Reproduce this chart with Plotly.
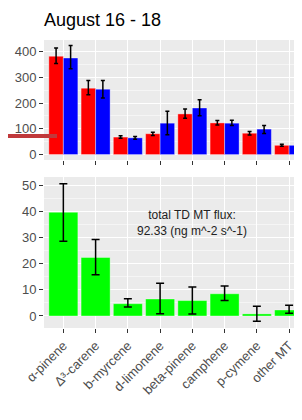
import plotly.graph_objects as go

categories = ["α-pinene", "Δ³-carene", "b-myrcene", "d-limonene", "beta-pinene", "camphene", "p-cymene", "other MT"]

red_vals = [382, 258, 68, 81, 158, 123, 83, 36]
red_hi = [414, 288, 73, 87, 177, 132, 90, 40]
red_lo = [354, 232, 63, 74, 141, 115, 76, 32]

blue_vals = [375, 254, 65, 122, 181, 122, 99, 36]
blue_hi = [424, 288, 70, 168, 213, 133, 113, 40]
blue_lo = [333, 220, 60, 77, 151, 113, 82, 32]

green_vals = [39.7, 22.4, 4.7, 6.5, 5.9, 8.5, 0.8, 2.3]
green_hi = [50.6, 29.3, 6.6, 12.5, 11.1, 11.5, 3.7, 4.1]
green_lo = [28.6, 15.8, 3.4, 0.9, 0.8, 5.9, -2.0, 1.0]

title_text = "August 16 - 18"
note_text = "total TD MT flux:<br>92.33 (ng m^-2 s^-1)"

xs = list(range(len(categories)))

def err(vals, hi, lo):
    return dict(type="data", symmetric=False,
                array=[h - v for h, v in zip(hi, vals)],
                arrayminus=[v - l for v, l in zip(vals, lo)])

outline = dict(color="rgba(255,255,255,0.6)", width=0.6)

fig = go.Figure()
e = err(red_vals, red_hi, red_lo)
e.update(color="black", thickness=1.5, width=2)
fig.add_trace(go.Bar(x=xs, y=red_vals, marker=dict(color="#FF0000", line=outline),
                     error_y=e, xaxis="x", yaxis="y", offsetgroup="r"))
e = err(blue_vals, blue_hi, blue_lo)
e.update(color="black", thickness=1.5, width=2)
fig.add_trace(go.Bar(x=xs, y=blue_vals, marker=dict(color="#0000FF", line=outline),
                     error_y=e, xaxis="x", yaxis="y", offsetgroup="b"))
e = err(green_vals, green_hi, green_lo)
e.update(color="black", thickness=1.5, width=4)
fig.add_trace(go.Bar(x=xs, y=green_vals, marker=dict(color="#00FF00", line=outline),
                     error_y=e, xaxis="x2", yaxis="y2", width=0.9))

# page has an 8px body margin; figure covers page pixels 8..302 / 8..420
OFF = 8
W, H = 302 - OFF, 420 - OFF

def px_x(p):
    return (p - OFF) / W

def px_y(p):
    return 1 - (p - OFF) / H

xdom = [px_x(44), 1.0]
grid = dict(showgrid=True, gridcolor="white", gridwidth=1.2, automargin=False)
tickfont = dict(family="Liberation Sans, Arial", size=13, color="#4D4D4D")

fig.update_layout(
    width=W, height=H,
    margin=dict(l=0, r=0, t=0, b=0, autoexpand=False),
    paper_bgcolor="white",
    plot_bgcolor="#EBEBEB",
    showlegend=False,
    barmode="group", bargap=0.1, bargroupgap=0,
    font=dict(family="Liberation Sans, Arial"),
    xaxis=dict(domain=xdom, anchor="y", range=[-0.6, 7.4], tickvals=xs, showticklabels=False,
               ticks="outside", ticklen=4, tickcolor="#333333", zeroline=False, **grid),
    yaxis=dict(domain=[px_y(160), px_y(40)], anchor="x", range=[-21, 445],
               tickvals=[0, 100, 200, 300, 400], ticks="outside", ticklen=4, tickcolor="#333333",
               tickfont=tickfont, zeroline=False,
               minor=dict(tickvals=[50, 150, 250, 350], showgrid=True, gridcolor="#F5F5F5", gridwidth=0.6, ticks=""),
               **grid),
    xaxis2=dict(domain=xdom, anchor="y2", range=[-0.6, 7.4], tickvals=xs, ticktext=categories,
                tickangle=-45, tickfont=tickfont, ticks="outside", ticklen=4, tickcolor="#333333",
                zeroline=False, **grid),
    yaxis2=dict(domain=[px_y(328), px_y(177)], anchor="x2", range=[-4.6, 53.2],
                tickvals=[0, 10, 20, 30, 40, 50], ticks="outside", ticklen=4, tickcolor="#333333",
                tickfont=tickfont, zeroline=False,
                minor=dict(tickvals=[5, 15, 25, 35, 45], showgrid=True, gridcolor="#F5F5F5", gridwidth=0.6, ticks=""),
                **grid),
    title=dict(text=title_text, x=px_x(44), xanchor="left", y=px_y(20), yanchor="middle",
               font=dict(family="Liberation Sans, Arial", size=18, color="black")),
    annotations=[dict(text=note_text, x=4, y=35.5, xref="x2", yref="y2", showarrow=False,
                      font=dict(family="Liberation Sans, Arial", size=12, color="#222222"),
                      align="center")],
    shapes=[dict(type="line", xref="paper", yref="paper", x0=0, x1=px_x(57),
                 y0=px_y(136), y1=px_y(136), line=dict(color="#C0393B", width=4))],
)

fig.write_html("out.html")
